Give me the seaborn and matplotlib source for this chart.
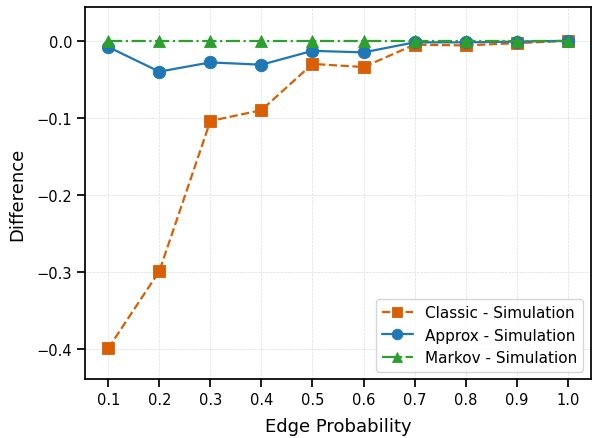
import numpy as np
import pandas as pd
import matplotlib
matplotlib.use('Agg')
import matplotlib.pyplot as plt
import seaborn as sns

edge_prob = [0.1, 0.2, 0.3, 0.4, 0.5, 0.6, 0.7, 0.8, 0.9, 1.0]
classic_diff = [-0.399, -0.299, -0.104, -0.090, -0.030, -0.034, -0.005, -0.006, -0.003, 0.0]
approx_diff = [-0.008, -0.040, -0.028, -0.031, -0.013, -0.015, -0.002, -0.002, -0.001, 0.0]
markov_diff = [0.0, 0.0, 0.0, 0.0, 0.0, 0.0, 0.0, 0.0, 0.0, 0.0]

sns.set_theme(style='ticks', context='notebook')
plt.rcParams['font.family'] = ['DejaVu Sans']
plt.rcParams['text.color'] = 'black'
plt.rcParams['axes.labelcolor'] = 'black'
plt.rcParams['xtick.color'] = 'black'
plt.rcParams['ytick.color'] = 'black'
plt.rcParams['axes.edgecolor'] = 'black'

fig, ax = plt.subplots(figsize=(5.92, 4.39), dpi=100)

series = [
    ('Classic - Simulation', classic_diff, '#d95f02', 's', '--'),
    ('Approx - Simulation', approx_diff, '#1f77b4', 'o', '-'),
    ('Markov - Simulation', markov_diff, '#2ca02c', '^', '-.'),
]
for label, vals, color, marker, ls in series:
    df = pd.DataFrame({'p': edge_prob, 'diff': vals})
    sns.lineplot(data=df, x='p', y='diff', ax=ax, label=label, color=color,
                 marker=marker, linestyle=ls, markersize=9, linewidth=1.6,
                 markeredgecolor=color, markeredgewidth=0.6)

ax.set_xticks(edge_prob)
ax.set_xticklabels([f'{v:.1f}' for v in edge_prob])
ax.set_xlim(0.055, 1.045)
ax.set_ylim(-0.439, 0.044)
ax.set_yticks([0.0, -0.1, -0.2, -0.3, -0.4])
ax.grid(True, linestyle='--', linewidth=0.5, color='#dddddd')
ax.set_xlabel('Edge Probability', fontsize=13, labelpad=7)
ax.set_ylabel('Difference', fontsize=13, labelpad=7)
ax.tick_params(labelsize=10.5)
ax.legend(loc='lower right', fontsize=11, frameon=True, markerscale=0.85)

fig.subplots_adjust(left=0.144, right=0.998, bottom=0.134, top=0.982)
fig.savefig('out.png', dpi=100)
